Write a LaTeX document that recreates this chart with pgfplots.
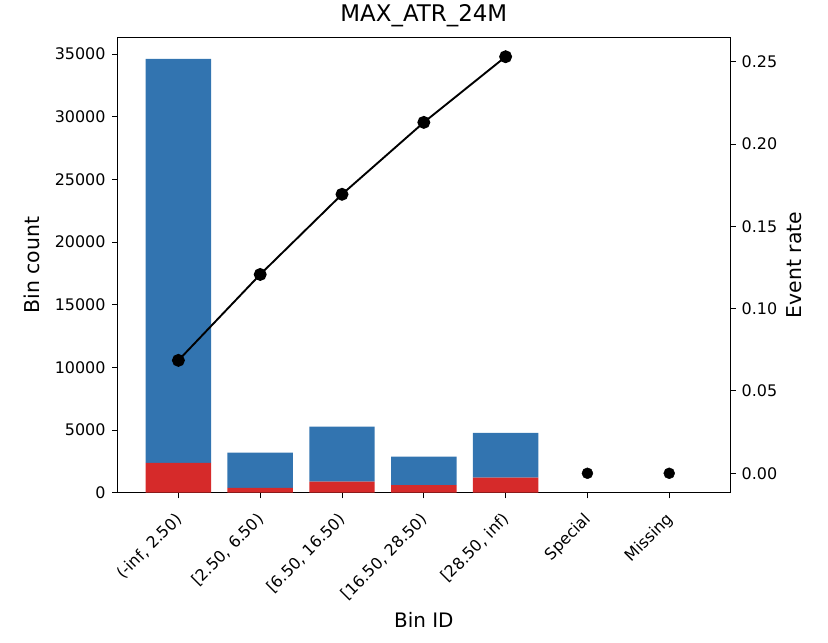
\documentclass[border=0pt]{standalone}
\usepackage{fontspec}
\setmainfont{DejaVu Sans}
\usepackage{pgfplots}
\pgfplotsset{compat=1.18}
\definecolor{barblue}{RGB}{50,116,176}
\definecolor{barred}{RGB}{214,42,42}
\begin{document}
\begin{tikzpicture}
\path[use as bounding box] (0,0) rectangle (828bp,643bp);
\begin{axis}[
  at={(117.7bp,150.3bp)}, anchor=south west,
  width=612.3bp, height=455.4bp, scale only axis,
  xmin=-0.742, xmax=6.743, ymin=0, ymax=36333,
  ybar stacked, bar width=0.8,
  scaled y ticks=false,
  xtick={0,1,2,3,4,5,6},
  xticklabels={{(-inf, 2.50)},{[2.50, 6.50)},{[6.50, 16.50)},{[16.50, 28.50)},{[28.50, inf)},{Special},{Missing}},
  ytick={0,5000,10000,15000,20000,25000,30000,35000},
  yticklabels={0,5000,10000,15000,20000,25000,30000,35000},
  xtick pos=bottom, ytick pos=left, tick align=outside,
  major tick length=5.7bp,
  axis line style={line width=1bp, black},
  tick style={line width=1bp, black},
  /pgf/number format/assume math mode=true,
  tick label style={font=\fontsize{16}{19}\selectfont},
  yticklabel style={xshift=-3bp},
  xticklabel style={rotate=45, anchor=north east, xshift=-9bp, yshift=-3bp},
  xlabel={Bin ID},
  xlabel style={font=\fontsize{20}{24}\selectfont, at={(axis description cs:0.5,-0.279)}, anchor=center},
  ylabel={Bin count},
  ylabel style={font=\fontsize{20.5}{24}\selectfont, at={(axis description cs:-0.140,0.5)}, anchor=center},
  title={MAX\_ATR\_24M},
  title style={font=\fontsize{23}{27}\selectfont, at={(axis description cs:0.5,1.022)}, anchor=base},
]
\addplot[fill=barred, draw=none] coordinates {(0,2374) (1,385) (2,893) (3,612) (4,1206)};
\addplot[fill=barblue, draw=none] coordinates {(0,32229) (1,2806) (2,4373) (3,2260) (4,3557)};
\end{axis}
\begin{axis}[
  at={(117.7bp,150.3bp)}, anchor=south west,
  width=612.3bp, height=455.4bp, scale only axis,
  xmin=-0.742, xmax=6.743, ymin=-0.0118, ymax=0.2649,
  axis x line=none, axis y line*=right,
  scaled y ticks=false,
  ytick={0,0.05,0.1,0.15,0.2,0.25},
  yticklabels={0.00,0.05,0.10,0.15,0.20,0.25},
  tick align=outside, major tick length=5.7bp,
  axis line style={line width=1bp, black},
  tick style={line width=1bp, black},
  /pgf/number format/assume math mode=true,
  tick label style={font=\fontsize{16}{19}\selectfont},
  yticklabel style={xshift=2.5bp},
  ylabel={Event rate},
  ylabel style={font=\fontsize{20.5}{24}\selectfont, at={(axis description cs:1.105,0.5)}, anchor=center},
]
\addplot[black, line width=1.9bp, mark=*, mark size=5.5bp, mark options={fill=black}] coordinates {(0,0.0686) (1,0.1208) (2,0.1695) (3,0.2132) (4,0.2531)};
\addplot[only marks, black, mark=*, mark size=5.5bp, mark options={fill=black}] coordinates {(5,0) (6,0)};
\end{axis}
\end{tikzpicture}
\end{document}
